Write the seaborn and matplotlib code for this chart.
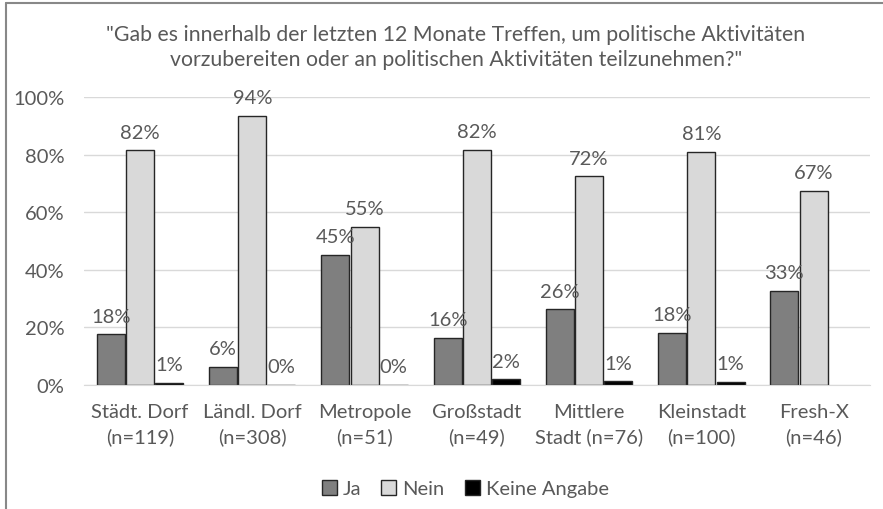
import pandas as pd
import seaborn as sns
import matplotlib.pyplot as plt
from matplotlib.lines import Line2D

categories = ["Städt. Dorf\n(n=119)", "Ländl. Dorf\n(n=308)", "Metropole\n(n=51)",
              "Großstadt\n(n=49)", "Mittlere\nStadt (n=76)", "Kleinstadt\n(n=100)",
              "Fresh-X\n(n=46)"]
series = ["Ja", "Nein", "Keine Angabe"]
ja = [17.6, 6.2, 45.1, 16.3, 26.3, 18.0, 32.6]
nein = [81.5, 93.5, 54.9, 81.6, 72.4, 81.0, 67.4]
keine = [0.8, 0.0, 0.0, 2.0, 1.3, 1.0, None]
title = ('"Gab es innerhalb der letzten 12 Monate Treffen, um politische Aktivitäten\n'
         'vorzubereiten oder an politischen Aktivitäten teilzunehmen?"')

rows = []
for name, vals in zip(series, [ja, nein, keine]):
    for cat, v in zip(categories, vals):
        rows.append({"Kategorie": cat, "Antwort": name, "Wert": v})
df = pd.DataFrame(rows)

sns.set_style("white")
plt.rcParams['font.family'] = ['Lato', 'DejaVu Sans']
text_col = "#595959"

fig = plt.figure(figsize=(8.83, 5.10), dpi=100)
ax = fig.add_axes([0.095, 0.243, 0.89, 0.565])

palette = {"Ja": "#7f7f7f", "Nein": "#d9d9d9", "Keine Angabe": "#000000"}
sns.barplot(data=df, x="Kategorie", y="Wert", hue="Antwort", palette=palette,
            order=categories, hue_order=series, width=0.78, gap=0.04,
            edgecolor="#262626", linewidth=1.0, saturation=1, ax=ax, legend=False)

for cont, vals in zip(ax.containers, [ja, nein, keine]):
    for bar, v in zip(cont, vals):
        if v is None:
            continue
        x = bar.get_x() + bar.get_width() / 2
        ax.annotate(f"{v:.0f}%", (x, v), xytext=(0, 7), textcoords="offset points",
                    ha="center", va="bottom", fontsize=14.5, color=text_col)

ax.set_ylim(0, 100)
ax.set_xlim(-0.5, len(categories) - 0.5)
ax.set_yticks(range(0, 101, 20))
ax.set_yticklabels([f"{t}%" for t in range(0, 101, 20)])
ax.yaxis.grid(True, color="#d9d9d9", linewidth=1)
ax.set_axisbelow(True)
ax.set_xlabel("")
ax.set_ylabel("")
for s in ["top", "right", "left"]:
    ax.spines[s].set_visible(False)
ax.spines["bottom"].set_color("#d9d9d9")
ax.tick_params(axis="both", length=0, labelsize=14.5, colors=text_col)
ax.tick_params(axis="x", pad=13)
ax.tick_params(axis="y", pad=14)
for lbl in ax.get_xticklabels():
    lbl.set_linespacing(1.45)

fig.text(0.516, 0.907, title, ha="center", va="center", fontsize=15.3,
         color=text_col, linespacing=1.3)

handles = [plt.Rectangle((0, 0), 1, 1, facecolor=palette[s], edgecolor="#262626", lw=1)
           for s in series]
fig.legend(handles, series, loc="center", bbox_to_anchor=(0.527, 0.04), ncol=3,
           frameon=False, fontsize=14.5, handlelength=0.75, handleheight=0.75,
           handletextpad=0.3, columnspacing=1.0, labelcolor=text_col)

fig.add_artist(Line2D([0.007, 0.007], [0, 0.992], color="#888888", lw=1.5))
fig.add_artist(Line2D([0.007, 1.0], [0.992, 0.992], color="#888888", lw=1.5))

plt.savefig("out.png", dpi=100)
